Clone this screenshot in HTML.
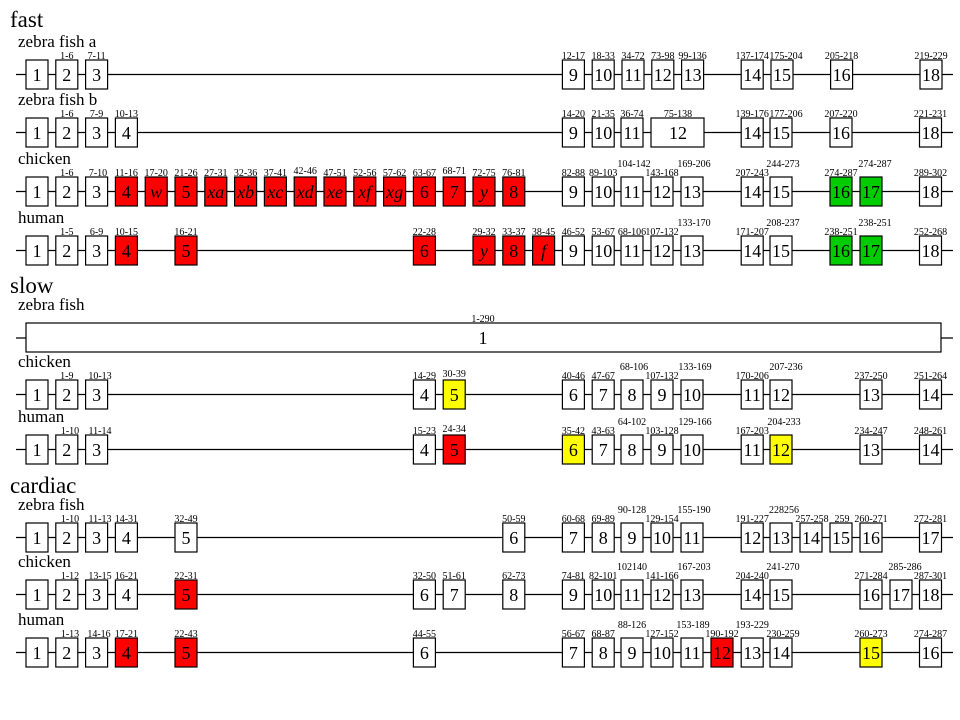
<!DOCTYPE html>
<html><head><meta charset="utf-8"><style>
html,body{margin:0;padding:0;background:#fff;width:960px;height:720px;overflow:hidden}
svg{display:block}
text{font-family:"Liberation Serif",serif;fill:#000}
.h{font-size:23px}
.s{font-size:17px}
.n{font-size:18px;text-anchor:middle}
.i{font-style:italic}
.r{font-size:10px;text-anchor:middle}
rect{stroke:#000;stroke-width:1.2;fill:#fff}
.R{fill:#ff0000}.G{fill:#00cc00}.Y{fill:#ffff00}
line{stroke:#000;stroke-width:1.2}
</style></head><body>
<svg width="960" height="720" viewBox="0 0 960 720" xmlns="http://www.w3.org/2000/svg">
<text class="h" x="10" y="27">fast</text>
<text class="s" x="18" y="47">zebra fish a</text>
<text class="s" x="18" y="105">zebra fish b</text>
<text class="s" x="18" y="164">chicken</text>
<text class="s" x="18" y="223">human</text>
<text class="h" x="10" y="293">slow</text>
<text class="s" x="18" y="310">zebra fish</text>
<text class="s" x="18" y="367">chicken</text>
<text class="s" x="18" y="422">human</text>
<text class="h" x="10" y="493">cardiac</text>
<text class="s" x="18" y="510">zebra fish</text>
<text class="s" x="18" y="567">chicken</text>
<text class="s" x="18" y="625">human</text>

<!-- fast zebra fish a -->
<g transform="translate(0,60)">
<line x1="16" y1="14.5" x2="953" y2="14.5"/>
<rect x="26" y="0" width="22" height="29"/><text class="n" x="37" y="21">1</text>
<rect x="55.8" y="0" width="22" height="29"/><text class="n" x="66.8" y="21">2</text><text class="r" x="66.8" y="-1">1-6</text>
<rect x="85.6" y="0" width="22" height="29"/><text class="n" x="96.6" y="21">3</text><text class="r" x="96.6" y="-1">7-11</text>
<rect x="562.4" y="0" width="22" height="29"/><text class="n" x="573.4" y="21">9</text><text class="r" x="573.4" y="-1">12-17</text>
<rect x="592.2" y="0" width="22" height="29"/><text class="n" x="603.2" y="21">10</text><text class="r" x="603.2" y="-1">18-33</text>
<rect x="622" y="0" width="22" height="29"/><text class="n" x="633" y="21">11</text><text class="r" x="633" y="-1">34-72</text>
<rect x="651.8" y="0" width="22" height="29"/><text class="n" x="662.8" y="21">12</text><text class="r" x="662.8" y="-1">73-98</text>
<rect x="681.6" y="0" width="22" height="29"/><text class="n" x="692.6" y="21">13</text><text class="r" x="692.6" y="-1">99-136</text>
<rect x="741.2" y="0" width="22" height="29"/><text class="n" x="752.2" y="21">14</text><text class="r" x="752.2" y="-1">137-174</text>
<rect x="771" y="0" width="22" height="29"/><text class="n" x="782" y="21">15</text><text class="r" x="786" y="-1">175-204</text>
<rect x="830.6" y="0" width="22" height="29"/><text class="n" x="841.6" y="21">16</text><text class="r" x="841.6" y="-1">205-218</text>
<rect x="920" y="0" width="22" height="29"/><text class="n" x="931" y="21">18</text><text class="r" x="931" y="-1">219-229</text>
</g>

<!-- fast zebra fish b -->
<g transform="translate(0,118)">
<line x1="16" y1="14.5" x2="953" y2="14.5"/>
<rect x="26" y="0" width="22" height="29"/><text class="n" x="37" y="21">1</text>
<rect x="55.8" y="0" width="22" height="29"/><text class="n" x="66.8" y="21">2</text><text class="r" x="66.8" y="-1">1-6</text>
<rect x="85.6" y="0" width="22" height="29"/><text class="n" x="96.6" y="21">3</text><text class="r" x="96.6" y="-1">7-9</text>
<rect x="115.4" y="0" width="22" height="29"/><text class="n" x="126.4" y="21">4</text><text class="r" x="126.4" y="-1">10-13</text>
<rect x="562.4" y="0" width="22" height="29"/><text class="n" x="573.4" y="21">9</text><text class="r" x="573.4" y="-1">14-20</text>
<rect x="592.2" y="0" width="22" height="29"/><text class="n" x="603.2" y="21">10</text><text class="r" x="603.2" y="-1">21-35</text>
<rect x="621" y="0" width="22" height="29"/><text class="n" x="632" y="21">11</text><text class="r" x="632" y="-1">36-74</text>
<rect x="651" y="0" width="53" height="29"/><text class="n" x="678" y="21">12</text><text class="r" x="678" y="-1">75-138</text>
<rect x="741.2" y="0" width="22" height="29"/><text class="n" x="752.2" y="21">14</text><text class="r" x="752.2" y="-1">139-176</text>
<rect x="770" y="0" width="22" height="29"/><text class="n" x="781" y="21">15</text><text class="r" x="786" y="-1">177-206</text>
<rect x="830" y="0" width="22" height="29"/><text class="n" x="841" y="21">16</text><text class="r" x="841" y="-1">207-220</text>
<rect x="919.5" y="0" width="22" height="29"/><text class="n" x="930.5" y="21">18</text><text class="r" x="930.5" y="-1">221-231</text>
</g>

<!-- fast chicken -->
<g transform="translate(0,177)">
<line x1="16" y1="14.5" x2="953" y2="14.5"/>
<rect x="26" y="0" width="22" height="29"/><text class="n" x="37" y="21">1</text>
<rect x="55.8" y="0" width="22" height="29"/><text class="n" x="66.8" y="21">2</text><text class="r" x="66.8" y="-1">1-6</text>
<rect x="85.6" y="0" width="22" height="29"/><text class="n" x="96.6" y="21">3</text><text class="r" x="98" y="-1">7-10</text>
<rect class="R" x="115.4" y="0" width="22" height="29"/><text class="n" x="126.4" y="21">4</text><text class="r" x="126.4" y="-1">11-16</text>
<rect class="R" x="145.2" y="0" width="22" height="29"/><text class="n i" x="156.2" y="21">w</text><text class="r" x="156.2" y="-1">17-20</text>
<rect class="R" x="175" y="0" width="22" height="29"/><text class="n" x="186" y="21">5</text><text class="r" x="186" y="-1">21-26</text>
<rect class="R" x="204.8" y="0" width="22" height="29"/><text class="n i" x="215.8" y="21">xa</text><text class="r" x="215.8" y="-1">27-31</text>
<rect class="R" x="234.6" y="0" width="22" height="29"/><text class="n i" x="245.6" y="21">xb</text><text class="r" x="245.6" y="-1">32-36</text>
<rect class="R" x="264.4" y="0" width="22" height="29"/><text class="n i" x="275.4" y="21">xc</text><text class="r" x="275.4" y="-1">37-41</text>
<rect class="R" x="294.2" y="0" width="22" height="29"/><text class="n i" x="305.2" y="21">xd</text><text class="r" x="305.2" y="-3">42-46</text>
<rect class="R" x="324" y="0" width="22" height="29"/><text class="n i" x="335" y="21">xe</text><text class="r" x="335" y="-1">47-51</text>
<rect class="R" x="353.8" y="0" width="22" height="29"/><text class="n i" x="364.8" y="21">xf</text><text class="r" x="364.8" y="-1">52-56</text>
<rect class="R" x="383.6" y="0" width="22" height="29"/><text class="n i" x="394.6" y="21">xg</text><text class="r" x="394.6" y="-1">57-62</text>
<rect class="R" x="413.4" y="0" width="22" height="29"/><text class="n" x="424.4" y="21">6</text><text class="r" x="424.4" y="-1">63-67</text>
<rect class="R" x="443.2" y="0" width="22" height="29"/><text class="n" x="454.2" y="21">7</text><text class="r" x="454.2" y="-3">68-71</text>
<rect class="R" x="473" y="0" width="22" height="29"/><text class="n i" x="484" y="21">y</text><text class="r" x="484" y="-1">72-75</text>
<rect class="R" x="502.8" y="0" width="22" height="29"/><text class="n" x="513.8" y="21">8</text><text class="r" x="513.8" y="-1">76-81</text>
<rect x="562.4" y="0" width="22" height="29"/><text class="n" x="573.4" y="21">9</text><text class="r" x="573.4" y="-1">82-88</text>
<rect x="592.2" y="0" width="22" height="29"/><text class="n" x="603.2" y="21">10</text><text class="r" x="603.2" y="-1">89-103</text>
<rect x="621" y="0" width="22" height="29"/><text class="n" x="632" y="21">11</text><text class="r" x="634" y="-10">104-142</text>
<rect x="651" y="0" width="22" height="29"/><text class="n" x="662" y="21">12</text><text class="r" x="662" y="-1">143-168</text>
<rect x="681" y="0" width="22" height="29"/><text class="n" x="692" y="21">13</text><text class="r" x="694" y="-10">169-206</text>
<rect x="741.2" y="0" width="22" height="29"/><text class="n" x="752.2" y="21">14</text><text class="r" x="752.2" y="-1">207-243</text>
<rect x="770" y="0" width="22" height="29"/><text class="n" x="781" y="21">15</text><text class="r" x="783" y="-10">244-273</text>
<rect class="G" x="830" y="0" width="22" height="29"/><text class="n" x="841" y="21">16</text><text class="r" x="841" y="-1">274-287</text>
<rect class="G" x="860" y="0" width="22" height="29"/><text class="n" x="871" y="21">17</text><text class="r" x="875" y="-10">274-287</text>
<rect x="919.5" y="0" width="22" height="29"/><text class="n" x="930.5" y="21">18</text><text class="r" x="930.5" y="-1">289-302</text>
</g>

<!-- fast human -->
<g transform="translate(0,236)">
<line x1="16" y1="14.5" x2="953" y2="14.5"/>
<rect x="26" y="0" width="22" height="29"/><text class="n" x="37" y="21">1</text>
<rect x="55.8" y="0" width="22" height="29"/><text class="n" x="66.8" y="21">2</text><text class="r" x="66.8" y="-1">1-5</text>
<rect x="85.6" y="0" width="22" height="29"/><text class="n" x="96.6" y="21">3</text><text class="r" x="96.6" y="-1">6-9</text>
<rect class="R" x="115.4" y="0" width="22" height="29"/><text class="n" x="126.4" y="21">4</text><text class="r" x="126.4" y="-1">10-15</text>
<rect class="R" x="175" y="0" width="22" height="29"/><text class="n" x="186" y="21">5</text><text class="r" x="186" y="-1">16-21</text>
<rect class="R" x="413.4" y="0" width="22" height="29"/><text class="n" x="424.4" y="21">6</text><text class="r" x="424.4" y="-1">22-28</text>
<rect class="R" x="473" y="0" width="22" height="29"/><text class="n i" x="484" y="21">y</text><text class="r" x="484" y="-1">29-32</text>
<rect class="R" x="502.8" y="0" width="22" height="29"/><text class="n" x="513.8" y="21">8</text><text class="r" x="513.8" y="-1">33-37</text>
<rect class="R" x="532.6" y="0" width="22" height="29"/><text class="n i" x="543.6" y="21">f</text><text class="r" x="543.6" y="-1">38-45</text>
<rect x="562.4" y="0" width="22" height="29"/><text class="n" x="573.4" y="21">9</text><text class="r" x="573.4" y="-1">46-52</text>
<rect x="592.2" y="0" width="22" height="29"/><text class="n" x="603.2" y="21">10</text><text class="r" x="603.2" y="-1">53-67</text>
<rect x="621" y="0" width="22" height="29"/><text class="n" x="632" y="21">11</text><text class="r" x="632" y="-1">68-106</text>
<rect x="651" y="0" width="22" height="29"/><text class="n" x="662" y="21">12</text><text class="r" x="662" y="-1">107-132</text>
<rect x="681" y="0" width="22" height="29"/><text class="n" x="692" y="21">13</text><text class="r" x="694" y="-10">133-170</text>
<rect x="741.2" y="0" width="22" height="29"/><text class="n" x="752.2" y="21">14</text><text class="r" x="752.2" y="-1">171-207</text>
<rect x="770" y="0" width="22" height="29"/><text class="n" x="781" y="21">15</text><text class="r" x="783" y="-10">208-237</text>
<rect class="G" x="830" y="0" width="22" height="29"/><text class="n" x="841" y="21">16</text><text class="r" x="841" y="-1">238-251</text>
<rect class="G" x="860" y="0" width="22" height="29"/><text class="n" x="871" y="21">17</text><text class="r" x="875" y="-10">238-251</text>
<rect x="919.5" y="0" width="22" height="29"/><text class="n" x="930.5" y="21">18</text><text class="r" x="930.5" y="-1">252-268</text>
</g>

<!-- slow zebra fish -->
<g transform="translate(0,323)">
<line x1="16" y1="15" x2="953" y2="15"/>
<rect x="26" y="0" width="915" height="29"/><text class="n" x="483" y="21">1</text><text class="r" x="483" y="-1">1-290</text>
</g>

<!-- slow chicken -->
<g transform="translate(0,380)">
<line x1="16" y1="14.5" x2="953" y2="14.5"/>
<rect x="26" y="0" width="22" height="29"/><text class="n" x="37" y="21">1</text>
<rect x="55.8" y="0" width="22" height="29"/><text class="n" x="66.8" y="21">2</text><text class="r" x="66.8" y="-1">1-9</text>
<rect x="85.6" y="0" width="22" height="29"/><text class="n" x="96.6" y="21">3</text><text class="r" x="100" y="-1">10-13</text>
<rect x="413.4" y="0" width="22" height="29"/><text class="n" x="424.4" y="21">4</text><text class="r" x="424.4" y="-1">14-29</text>
<rect class="Y" x="443.2" y="0" width="22" height="29"/><text class="n" x="454.2" y="21">5</text><text class="r" x="454.2" y="-3">30-39</text>
<rect x="562.4" y="0" width="22" height="29"/><text class="n" x="573.4" y="21">6</text><text class="r" x="573.4" y="-1">40-46</text>
<rect x="592.2" y="0" width="22" height="29"/><text class="n" x="603.2" y="21">7</text><text class="r" x="603.2" y="-1">47-67</text>
<rect x="621" y="0" width="22" height="29"/><text class="n" x="632" y="21">8</text><text class="r" x="634" y="-10">68-106</text>
<rect x="651" y="0" width="22" height="29"/><text class="n" x="662" y="21">9</text><text class="r" x="662" y="-1">107-132</text>
<rect x="681" y="0" width="22" height="29"/><text class="n" x="692" y="21">10</text><text class="r" x="695" y="-10">133-169</text>
<rect x="741.2" y="0" width="22" height="29"/><text class="n" x="752.2" y="21">11</text><text class="r" x="752.2" y="-1">170-206</text>
<rect x="770" y="0" width="22" height="29"/><text class="n" x="781" y="21">12</text><text class="r" x="786" y="-10">207-236</text>
<rect x="860" y="0" width="22" height="29"/><text class="n" x="871" y="21">13</text><text class="r" x="871" y="-1">237-250</text>
<rect x="919.5" y="0" width="22" height="29"/><text class="n" x="930.5" y="21">14</text><text class="r" x="930.5" y="-1">251-264</text>
</g>

<!-- slow human -->
<g transform="translate(0,435)">
<line x1="16" y1="14.5" x2="953" y2="14.5"/>
<rect x="26" y="0" width="22" height="29"/><text class="n" x="37" y="21">1</text>
<rect x="55.8" y="0" width="22" height="29"/><text class="n" x="66.8" y="21">2</text><text class="r" x="70" y="-1">1-10</text>
<rect x="85.6" y="0" width="22" height="29"/><text class="n" x="96.6" y="21">3</text><text class="r" x="100" y="-1">11-14</text>
<rect x="413.4" y="0" width="22" height="29"/><text class="n" x="424.4" y="21">4</text><text class="r" x="424.4" y="-1">15-23</text>
<rect class="R" x="443.2" y="0" width="22" height="29"/><text class="n" x="454.2" y="21">5</text><text class="r" x="454.2" y="-3">24-34</text>
<rect class="Y" x="562.4" y="0" width="22" height="29"/><text class="n" x="573.4" y="21">6</text><text class="r" x="573.4" y="-1">35-42</text>
<rect x="592.2" y="0" width="22" height="29"/><text class="n" x="603.2" y="21">7</text><text class="r" x="603.2" y="-1">43-63</text>
<rect x="621" y="0" width="22" height="29"/><text class="n" x="632" y="21">8</text><text class="r" x="632" y="-10">64-102</text>
<rect x="651" y="0" width="22" height="29"/><text class="n" x="662" y="21">9</text><text class="r" x="662" y="-1">103-128</text>
<rect x="681" y="0" width="22" height="29"/><text class="n" x="692" y="21">10</text><text class="r" x="695" y="-10">129-166</text>
<rect x="741.2" y="0" width="22" height="29"/><text class="n" x="752.2" y="21">11</text><text class="r" x="752.2" y="-1">167-203</text>
<rect class="Y" x="770" y="0" width="22" height="29"/><text class="n" x="781" y="21">12</text><text class="r" x="784" y="-10">204-233</text>
<rect x="860" y="0" width="22" height="29"/><text class="n" x="871" y="21">13</text><text class="r" x="871" y="-1">234-247</text>
<rect x="919.5" y="0" width="22" height="29"/><text class="n" x="930.5" y="21">14</text><text class="r" x="930.5" y="-1">248-261</text>
</g>

<!-- cardiac zebra fish -->
<g transform="translate(0,523)">
<line x1="16" y1="14.5" x2="953" y2="14.5"/>
<rect x="26" y="0" width="22" height="29"/><text class="n" x="37" y="21">1</text>
<rect x="55.8" y="0" width="22" height="29"/><text class="n" x="66.8" y="21">2</text><text class="r" x="70" y="-1">1-10</text>
<rect x="85.6" y="0" width="22" height="29"/><text class="n" x="96.6" y="21">3</text><text class="r" x="100" y="-1">11-13</text>
<rect x="115.4" y="0" width="22" height="29"/><text class="n" x="126.4" y="21">4</text><text class="r" x="126.4" y="-1">14-31</text>
<rect x="175" y="0" width="22" height="29"/><text class="n" x="186" y="21">5</text><text class="r" x="186" y="-1">32-49</text>
<rect x="502.8" y="0" width="22" height="29"/><text class="n" x="513.8" y="21">6</text><text class="r" x="513.8" y="-1">50-59</text>
<rect x="562.4" y="0" width="22" height="29"/><text class="n" x="573.4" y="21">7</text><text class="r" x="573.4" y="-1">60-68</text>
<rect x="592.2" y="0" width="22" height="29"/><text class="n" x="603.2" y="21">8</text><text class="r" x="603.2" y="-1">69-89</text>
<rect x="621" y="0" width="22" height="29"/><text class="n" x="632" y="21">9</text><text class="r" x="632" y="-10">90-128</text>
<rect x="651" y="0" width="22" height="29"/><text class="n" x="662" y="21">10</text><text class="r" x="662" y="-1">129-154</text>
<rect x="681" y="0" width="22" height="29"/><text class="n" x="692" y="21">11</text><text class="r" x="694" y="-10">155-190</text>
<rect x="741.2" y="0" width="22" height="29"/><text class="n" x="752.2" y="21">12</text><text class="r" x="752.2" y="-1">191-227</text>
<rect x="770" y="0" width="22" height="29"/><text class="n" x="781" y="21">13</text><text class="r" x="784" y="-10">228256</text>
<rect x="800" y="0" width="22" height="29"/><text class="n" x="811" y="21">14</text><text class="r" x="812" y="-1">257-258</text>
<rect x="830" y="0" width="22" height="29"/><text class="n" x="841" y="21">15</text><text class="r" x="842" y="-1">259</text>
<rect x="860" y="0" width="22" height="29"/><text class="n" x="871" y="21">16</text><text class="r" x="871" y="-1">260-271</text>
<rect x="919.5" y="0" width="22" height="29"/><text class="n" x="930.5" y="21">17</text><text class="r" x="930.5" y="-1">272-281</text>
</g>

<!-- cardiac chicken -->
<g transform="translate(0,580)">
<line x1="16" y1="14.5" x2="953" y2="14.5"/>
<rect x="26" y="0" width="22" height="29"/><text class="n" x="37" y="21">1</text>
<rect x="55.8" y="0" width="22" height="29"/><text class="n" x="66.8" y="21">2</text><text class="r" x="70" y="-1">1-12</text>
<rect x="85.6" y="0" width="22" height="29"/><text class="n" x="96.6" y="21">3</text><text class="r" x="100" y="-1">13-15</text>
<rect x="115.4" y="0" width="22" height="29"/><text class="n" x="126.4" y="21">4</text><text class="r" x="126.4" y="-1">16-21</text>
<rect class="R" x="175" y="0" width="22" height="29"/><text class="n" x="186" y="21">5</text><text class="r" x="186" y="-1">22-31</text>
<rect x="413.4" y="0" width="22" height="29"/><text class="n" x="424.4" y="21">6</text><text class="r" x="424.4" y="-1">32-50</text>
<rect x="443.2" y="0" width="22" height="29"/><text class="n" x="454.2" y="21">7</text><text class="r" x="454.2" y="-1">51-61</text>
<rect x="502.8" y="0" width="22" height="29"/><text class="n" x="513.8" y="21">8</text><text class="r" x="513.8" y="-1">62-73</text>
<rect x="562.4" y="0" width="22" height="29"/><text class="n" x="573.4" y="21">9</text><text class="r" x="573.4" y="-1">74-81</text>
<rect x="592.2" y="0" width="22" height="29"/><text class="n" x="603.2" y="21">10</text><text class="r" x="603.2" y="-1">82-101</text>
<rect x="621" y="0" width="22" height="29"/><text class="n" x="632" y="21">11</text><text class="r" x="632" y="-10">102140</text>
<rect x="651" y="0" width="22" height="29"/><text class="n" x="662" y="21">12</text><text class="r" x="662" y="-1">141-166</text>
<rect x="681" y="0" width="22" height="29"/><text class="n" x="692" y="21">13</text><text class="r" x="694" y="-10">167-203</text>
<rect x="741.2" y="0" width="22" height="29"/><text class="n" x="752.2" y="21">14</text><text class="r" x="752.2" y="-1">204-240</text>
<rect x="770" y="0" width="22" height="29"/><text class="n" x="781" y="21">15</text><text class="r" x="783" y="-10">241-270</text>
<rect x="860" y="0" width="22" height="29"/><text class="n" x="871" y="21">16</text><text class="r" x="871" y="-1">271-284</text>
<rect x="890" y="0" width="22" height="29"/><text class="n" x="901" y="21">17</text><text class="r" x="905" y="-10">285-286</text>
<rect x="919.5" y="0" width="22" height="29"/><text class="n" x="930.5" y="21">18</text><text class="r" x="930.5" y="-1">287-301</text>
</g>

<!-- cardiac human -->
<g transform="translate(0,638)">
<line x1="16" y1="14.5" x2="953" y2="14.5"/>
<rect x="26" y="0" width="22" height="29"/><text class="n" x="37" y="21">1</text>
<rect x="55.8" y="0" width="22" height="29"/><text class="n" x="66.8" y="21">2</text><text class="r" x="70" y="-1">1-13</text>
<rect x="85.6" y="0" width="22" height="29"/><text class="n" x="96.6" y="21">3</text><text class="r" x="99" y="-1">14-16</text>
<rect class="R" x="115.4" y="0" width="22" height="29"/><text class="n" x="126.4" y="21">4</text><text class="r" x="126.4" y="-1">17-21</text>
<rect class="R" x="175" y="0" width="22" height="29"/><text class="n" x="186" y="21">5</text><text class="r" x="186" y="-1">22-43</text>
<rect x="413.4" y="0" width="22" height="29"/><text class="n" x="424.4" y="21">6</text><text class="r" x="424.4" y="-1">44-55</text>
<rect x="562.4" y="0" width="22" height="29"/><text class="n" x="573.4" y="21">7</text><text class="r" x="573.4" y="-1">56-67</text>
<rect x="592.2" y="0" width="22" height="29"/><text class="n" x="603.2" y="21">8</text><text class="r" x="603.2" y="-1">68-87</text>
<rect x="621" y="0" width="22" height="29"/><text class="n" x="632" y="21">9</text><text class="r" x="632" y="-10">88-126</text>
<rect x="651" y="0" width="22" height="29"/><text class="n" x="662" y="21">10</text><text class="r" x="662" y="-1">127-152</text>
<rect x="681" y="0" width="22" height="29"/><text class="n" x="692" y="21">11</text><text class="r" x="693" y="-10">153-189</text>
<rect class="R" x="711" y="0" width="22" height="29"/><text class="n" x="722" y="21">12</text><text class="r" x="722" y="-1">190-192</text>
<rect x="741.2" y="0" width="22" height="29"/><text class="n" x="752.2" y="21">13</text><text class="r" x="752.2" y="-10">193-229</text>
<rect x="770" y="0" width="22" height="29"/><text class="n" x="781" y="21">14</text><text class="r" x="783" y="-1">230-259</text>
<rect class="Y" x="860" y="0" width="22" height="29"/><text class="n" x="871" y="21">15</text><text class="r" x="871" y="-1">260-273</text>
<rect x="919.5" y="0" width="22" height="29"/><text class="n" x="930.5" y="21">16</text><text class="r" x="930.5" y="-1">274-287</text>
</g>
</svg>
</body></html>
